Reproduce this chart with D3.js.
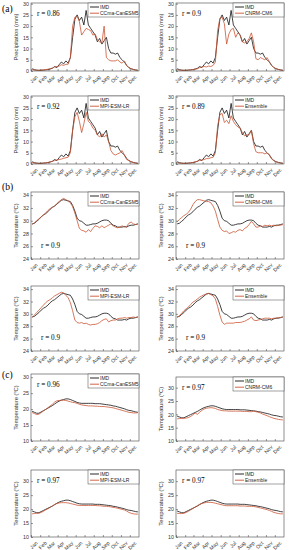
<!DOCTYPE html>
<html><head><meta charset="utf-8">
<script src="https://cdn.jsdelivr.net/npm/d3@7"></script>
<style>body{margin:0;background:#fff}svg{display:block}</style>
</head><body>
<svg id="c" width="291" height="550"></svg>
<script>
const months = ["Jan","Feb","Mar","Apr","May","Jun","Jul","Aug","Sep","Oct","Nov","Dec"];
const monthStart = [0,31,59,90,120,151,181,212,243,273,304,334];
const models = ["CCma-CanESM5","CNRM-CM6","MPI-ESM-LR","Ensemble"];

// Precipitation (mm/day), 4 values per month
const prIMD = [1.0,0.6,0.4,0.3, 0.3,0.4,0.5,0.6, 0.9,1.2,2.0,1.5, 2.8,4.0,3.2,4.5, 3.5,6.0,15.0,23.0, 25.0,22.5,24.0,20.5, 27.0,20.5,19.0,17.5, 16.0,13.0,14.5,12.0, 13.5,15.0,10.0,8.0, 8.0,7.5,8.0,6.0, 5.0,4.0,2.5,1.5, 1.0,0.7,0.5,0.3];
const prCCma = [0.6,0.4,0.3,0.3, 0.4,0.5,0.6,0.8, 1.0,1.3,1.8,2.0, 2.2,2.8,2.5,3.0, 3.0,6.0,20.0,24.0, 24.5,22.0,16.0,17.5, 19.0,18.5,18.0,16.0, 16.5,14.0,13.0,12.5, 20.0,6.0,5.0,4.5, 4.5,4.5,5.0,4.0, 3.5,4.5,2.5,1.5, 1.0,0.6,0.4,0.3];
const prCNRM = [0.5,0.4,0.3,0.3, 0.3,0.4,0.5,0.6, 0.8,1.0,1.5,1.8, 2.0,1.8,2.2,2.0, 2.5,4.0,18.0,23.5, 24.0,21.0,12.0,16.5, 18.5,19.0,15.0,17.0, 16.0,13.0,12.5,13.0, 14.5,17.0,13.0,5.5, 5.0,6.0,5.5,5.0, 6.0,4.0,2.5,1.5, 1.0,0.7,0.4,0.3];
const prMPI = [0.6,0.4,0.3,0.3, 0.3,0.4,0.5,0.7, 0.9,1.2,1.5,1.8, 2.0,2.2,2.5,2.8, 3.0,5.0,15.0,21.0, 23.0,19.0,14.0,18.0, 23.0,19.0,18.0,16.0, 15.0,13.0,12.0,13.5, 12.0,13.0,10.0,6.0, 4.5,4.0,4.5,5.0, 6.0,4.0,2.0,1.5, 1.0,0.6,0.4,0.3];
const prEns = [0.6,0.4,0.3,0.3, 0.3,0.4,0.5,0.7, 0.9,1.2,1.6,1.8, 2.0,2.4,2.4,2.8, 3.0,5.0,17.0,22.0, 22.5,18.5,19.5,18.0, 21.5,19.0,17.5,16.5, 16.0,14.0,12.5,13.0, 13.0,15.0,9.0,5.5, 5.0,5.0,5.0,4.5, 5.0,4.0,2.2,1.5, 1.0,0.6,0.4,0.3];

// Maximum temperature (°C)
const txIMD = [29.5,29.6,29.9,30.2, 30.6,30.9,31.1,31.4, 31.8,32.1,32.3,32.6, 32.9,33.2,33.3,33.2, 33.1,33.0,32.4,31.5, 30.4,30.0,29.9,29.6, 29.3,29.3,29.4,29.5, 29.5,29.6,29.8,30.0, 30.1,30.1,30.0,29.6, 29.3,29.2,29.0,29.0, 29.0,29.1,29.0,29.2, 29.3,29.3,29.4,29.5];
const txCCma = [29.4,29.7,30.0,30.3, 30.6,30.9,31.2,31.6, 31.9,32.1,32.3,32.7, 33.0,33.3,33.5,33.3, 33.1,32.8,32.2,31.2, 30.0,28.8,28.5,28.4, 28.2,28.6,28.3,28.8, 29.2,29.1,28.9,29.2, 28.9,29.1,29.3,29.5, 29.2,29.0,28.9,29.0, 29.2,29.0,29.1,29.6, 29.8,29.5,29.4,29.5];
const txCNRM = [29.8,30.2,30.5,30.8, 31.0,31.3,31.8,32.5, 33.0,33.3,33.3,33.2, 33.1,33.0,33.0,32.8, 32.3,31.5,30.2,29.0, 28.5,28.3,28.4,28.0, 28.1,28.3,28.2,28.5, 28.6,28.4,28.8,29.0, 29.4,29.9,29.5,29.0, 29.0,29.2,29.1,29.3, 29.2,29.3,29.2,29.3, 29.2,29.3,29.3,29.4];
const txMPI = [29.4,29.8,30.2,30.6, 31.0,31.4,31.8,32.1, 32.3,32.6,32.9,33.1, 33.3,33.5,33.4,33.0, 32.6,31.8,30.5,29.0, 28.6,28.5,28.6,28.4, 28.5,28.3,28.2,28.3, 28.3,28.4,28.6,28.9, 29.1,29.2,28.7,28.9, 29.0,29.0,29.2,29.3, 29.3,29.4,29.3,29.4, 29.4,29.5,29.4,29.5];
const txEns = [29.4,29.7,30.1,30.5, 30.8,31.1,31.5,31.9, 32.1,32.4,32.7,32.9, 33.1,33.2,33.3,33.1, 32.9,32.4,31.2,29.8, 28.7,28.3,28.5,28.5, 28.5,28.5,28.6,28.6, 28.6,28.7,28.8,29.0, 29.2,29.5,29.0,28.9, 29.0,29.1,29.2,29.3, 29.3,29.3,29.2,29.3, 29.3,29.4,29.4,29.5];

// Minimum temperature (°C)
const tnIMD = [19.3,19.0,18.7,18.7, 19.1,19.5,19.9,20.3, 20.7,21.1,21.6,22.1, 22.5,22.8,23.0,23.2, 23.2,23.0,22.7,22.4, 22.1,21.9,21.8,21.8, 21.8,21.8,21.8,21.8, 21.7,21.7,21.7,21.6, 21.5,21.4,21.3,21.2, 21.0,20.9,20.7,20.5, 20.3,20.1,19.8,19.6, 19.5,19.3,19.1,19.0];
const tnCCma = [18.9,18.6,18.3,18.4, 18.9,19.4,19.9,20.4, 21.0,21.5,22.2,22.6, 22.7,22.8,22.8,22.7, 22.5,22.3,22.1,22.0, 21.8,21.5,21.3,21.2, 21.1,21.0,21.0,21.0, 20.9,20.9,20.8,20.8, 20.8,20.7,20.6,20.5, 20.4,20.2,20.0,19.8, 19.6,19.4,19.2,19.0, 18.9,18.8,18.8,18.9];
const tnCNRM = [18.3,18.4,18.5,18.5, 18.6,18.8,19.2,19.8, 20.5,20.0,20.8,21.5, 22.0,22.3,22.4,22.5, 22.4,22.2,21.8,21.6, 21.4,21.3,21.3,21.2, 21.2,21.2,21.2,21.2, 21.2,21.1,21.1,21.1, 21.0,21.0,21.2,21.0, 20.8,20.5,20.1,19.8, 19.5,19.1,18.8,18.5, 18.3,18.1,18.0,17.9];
const tnMPI = [18.3,18.4,18.5,18.5, 18.8,19.2,19.7,20.1, 20.6,21.1,21.6,22.0, 22.2,22.3,22.3,22.3, 22.2,22.0,21.8,21.6, 21.4,21.3,21.3,21.3, 21.3,21.3,21.3,21.3, 21.3,21.2,21.2,21.1, 21.0,21.0,20.9,20.8, 20.6,20.5,20.3,20.1, 19.9,19.7,19.3,18.8, 18.5,18.3,18.2,18.2];
const tnEns = [18.5,18.4,18.4,18.5, 18.8,19.2,19.7,20.2, 20.7,21.2,21.7,22.0, 22.2,22.4,22.4,22.4, 22.3,22.1,21.9,21.7, 21.5,21.3,21.2,21.2, 21.2,21.2,21.2,21.2, 21.1,21.1,21.1,21.0, 21.0,21.0,20.9,20.8, 20.6,20.4,20.2,20.0, 19.8,19.5,19.2,18.8, 18.6,18.4,18.3,18.3];

const rPr = ["0.86","0.9","0.92","0.89"];
const rTx = ["0.9","0.9","0.9","0.9"];
const rTn = ["0.96","0.97","0.97","0.97"];

const prTicks = [0,5,10,15,20,25,30];
const txTicks = [24,26,28,30,32,34];
const tnTicks = [10,15,20,25,30];

const svg = d3.select("#c");
const modelColor = "#cc5533";
const days = d3.range(48).map(i => (i + 0.5) * 365 / 48);

const colX = [31, 176];
const W = 108;

const groups = [
  {label:"(a)", labelY:12, obs:prIMD, mods:[prCCma,prCNRM,prMPI,prEns], r:rPr, ticks:prTicks,
   ylab:"Precipitation (mm)", rPos:"top",
   rows:[[3,71],[96,164]], dom:[[0,30.3],[0,30.3],[0,30.3],[0,30.3]]},
  {label:"(b)", labelY:190, obs:txIMD, mods:[txCCma,txCNRM,txMPI,txEns], r:rTx, ticks:txTicks,
   ylab:"Temperature", rPos:"bottom",
   rows:[[192,259],[286,351]], dom:[[24,34.5],[24,34.5],[24,34.5],[24,34.5]]},
  {label:"(c)", labelY:378, obs:tnIMD, mods:[tnCCma,tnCNRM,tnMPI,tnEns], r:rTn, ticks:tnTicks,
   ylab:"Temperature", rPos:"top",
   rows:[[374,441],[470,537]], dom:[[10,31],[10,34],[10,34],[10,34]]}
];

groups.forEach(g => {
  svg.append("text").attr("x", 2).attr("y", g.labelY)
    .attr("font-family","Liberation Serif, Times New Roman, serif").attr("font-size", 9.5)
    .text(g.label);
  for (let k = 0; k < 4; k++) {
    const col = k % 2, row = Math.floor(k / 2);
    const x0 = colX[col], [top, bot] = g.rows[row];
    let yTop = top;
    if (g.label === "(c)" && k === 1) yTop = 377;
    const x = d3.scaleLinear().domain([0,365]).range([x0, x0 + W]);
    const y = d3.scaleLinear().domain(g.dom[k]).range([bot, yTop]);
    const p = svg.append("g");

    const ya = p.append("g").attr("transform", `translate(${x0},0)`)
      .call(d3.axisLeft(y).tickValues(g.ticks).tickSize(-2).tickPadding(2));
    ya.select(".domain").remove();
    ya.selectAll("line").attr("stroke","#333").attr("stroke-width",0.5);
    ya.selectAll("text").attr("font-family","Liberation Sans, Arial, sans-serif").attr("font-size",5.3).attr("fill","#333");

    const xa = p.append("g").attr("transform", `translate(0,${bot})`)
      .call(d3.axisBottom(x).tickValues(monthStart).tickFormat((d,i)=>months[i]).tickSize(-2).tickPadding(2));
    xa.select(".domain").remove();
    xa.selectAll("line").attr("stroke","#333").attr("stroke-width",0.5);
    xa.selectAll("text").attr("font-family","Liberation Sans, Arial, sans-serif").attr("font-size",5.2).attr("fill","#333")
      .attr("text-anchor","end").attr("dy","0.3em").attr("transform","translate(4,4) rotate(-45)");

    const ly = p.append("text").attr("transform", `translate(${x0 - 13},${(yTop + bot) / 2}) rotate(-90)`)
      .attr("text-anchor","middle").attr("font-family","Liberation Sans, Arial, sans-serif").attr("font-size",5.8).attr("fill","#333");
    if (g.ylab === "Temperature") {
      ly.append("tspan").text("Temperature (");
      ly.append("tspan").text("o").attr("font-size",3.9).attr("dy",-2);
      ly.append("tspan").text("C)").attr("dy",2);
    } else ly.text(g.ylab);

    const line = d3.line().x((d,i)=>x(days[i])).y(d=>y(d));
    p.append("path").datum(g.obs).attr("d", line).attr("fill","none").attr("stroke","#111").attr("stroke-width",0.8);
    p.append("path").datum(g.mods[k]).attr("d", line).attr("fill","none").attr("stroke",modelColor).attr("stroke-width",0.8);

    p.append("rect").attr("x", x0).attr("y", yTop).attr("width", W).attr("height", bot - yTop)
      .attr("fill","none").attr("stroke","#444").attr("stroke-width",0.6);

    const rY = g.rPos === "top" ? yTop + 13 : bot - 11;
    const rX = g.rPos === "top" ? x0 + 6 : x0 + 10;
    p.append("text").attr("x", rX).attr("y", rY).attr("font-family","Liberation Serif, Times New Roman, serif")
      .attr("font-size",7.2).text("r = " + g.r[k]);

    const lx = x0 + W - 51, lyy = yTop;
    p.append("rect").attr("x", lx).attr("y", lyy).attr("width", 51).attr("height", 14)
      .attr("fill","#fff").attr("stroke","#444").attr("stroke-width",0.5);
    [["IMD","#111"],[models[k],modelColor]].forEach((e,j) => {
      const yy = lyy + 4 + j * 6.2;
      p.append("line").attr("x1", lx + 2).attr("x2", lx + 11).attr("y1", yy).attr("y2", yy)
        .attr("stroke", e[1]).attr("stroke-width", 0.9);
      p.append("text").attr("x", lx + 12).attr("y", yy + 1.8).attr("font-family","Liberation Sans, Arial, sans-serif")
        .attr("font-size",5).attr("fill","#222").text(e[0]);
    });
  }
});
</script>
</body></html>
